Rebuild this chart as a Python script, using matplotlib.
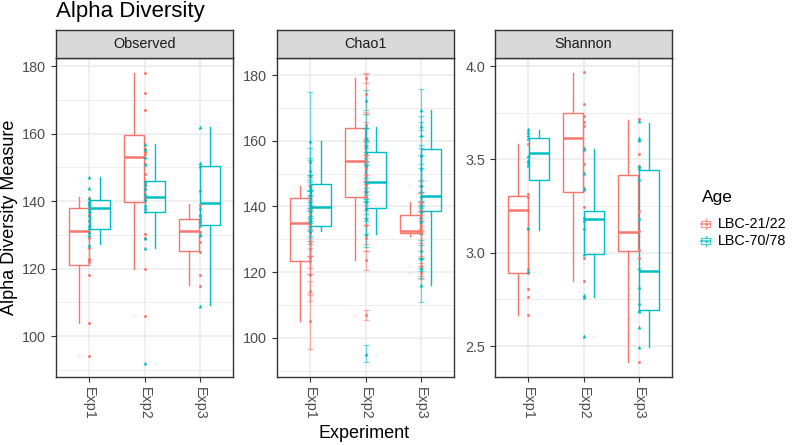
import matplotlib
matplotlib.use('Agg')
import matplotlib.pyplot as plt
from matplotlib.patches import Rectangle
from matplotlib.lines import Line2D

plt.rcParams['font.family'] = ['Liberation Sans', 'DejaVu Sans']

experiments = ['Exp1', 'Exp2', 'Exp3']
groups = ['LBC-21/22', 'LBC-70/78']
colors = ['#F8766D', '#00BFC4']
measures = ['Observed', 'Chao1', 'Shannon']

# ---------------- Observed ----------------
observed_lbc21 = {
    'Exp1': [141, 139.5, 138, 136, 134, 131, 129, 126, 123, 122.5, 122, 118, 104, 94],
    'Exp2': [178, 172, 167, 155.5, 154.7, 154, 151, 148, 145, 140, 130.2, 129, 120, 106],
    'Exp3': [139, 136, 133.5, 131, 130, 128, 125, 118, 115],
}
observed_lbc70 = {
    'Exp1': [147, 144, 141, 140, 139.5, 139, 138, 137, 136, 134.5, 133, 132, 131, 130, 127],
    'Exp2': [157, 155.5, 153, 151, 146, 145, 144, 142, 140.5, 139, 138, 137, 129, 126, 92],
    'Exp3': [162, 151.3, 150.3, 143.3, 138, 136, 135, 134, 133, 130, 109],
}
# box stats per experiment: [lower whisker, Q1, median, Q3, upper whisker]
observed_box_lbc21 = [[104.0, 121.0, 131.1, 138.1, 141.1],
                      [120.0, 139.8, 153.0, 159.5, 177.9],
                      [115.1, 125.1, 131.1, 134.6, 139.1]]
observed_box_lbc70 = [[127.2, 131.8, 138.0, 140.2, 147.0],
                      [126.2, 136.9, 141.1, 146.0, 156.8],
                      [109.1, 132.9, 139.5, 150.3, 162.0]]
observed_out_lbc21 = [[94], [106], []]
observed_out_lbc70 = [[], [92.2], []]

# ---------------- Chao1 (value, standard error) ----------------
chao1_lbc21 = {
    'Exp1': [146.1, 141.6, 138, 136.5, 134.5, 132, 128.9, 127.2, 124.5, 123.3, 119, 114.2, 105.1],
    'Exp2': [179.1, 174.2, 164.9, 160.8, 155.8, 153.8, 151.7, 149.7, 146.6, 142.9, 139.5, 134.5, 130.4, 123.6, 107.1],
    'Exp3': [146.1, 141.4, 137.3, 135.5, 134, 132.6, 132.2, 131.8, 121.8, 119.8],
}
chao1_se_lbc21 = {
    'Exp1': [3, 5, 4, 6, 5, 7, 4, 6, 5, 4, 6, 3, 8.5],
    'Exp2': [1.5, 6, 4, 5, 3, 6, 4, 5, 3, 4, 5, 6, 4, 3, 1.5],
    'Exp3': [2, 3, 4, 3, 5, 6, 8, 9, 3, 2],
}
chao1_lbc70 = {
    'Exp1': [159.9, 153.7, 151.2, 149.7, 146.6, 143.6, 141.6, 140, 138.5, 136.5, 134, 132.6],
    'Exp2': [172.5, 164.3, 160.8, 158.8, 156.5, 152.7, 147.6, 144.6, 141.6, 139.4, 136.5, 131.7, 95.2],
    'Exp3': [169.5, 164.4, 161.8, 155.8, 151.7, 146.6, 143.3, 140.5, 138.5, 135.5, 126.9, 124.3, 121.3, 116],
}
chao1_se_lbc70 = {
    'Exp1': [15, 4, 3, 5, 3, 4, 3, 5, 3, 4, 3, 4],
    'Exp2': [3, 4, 3, 5, 3, 4, 5, 3, 4, 3, 5, 4, 2.6],
    'Exp3': [6.3, 3, 4, 3, 4, 5, 3, 4, 3, 4, 3, 4, 3, 5.2],
}
chao1_box_lbc21 = [[105.1, 123.3, 135.0, 142.5, 146.1],
                   [123.6, 142.9, 153.8, 163.8, 179.1],
                   [131.0, 131.8, 132.6, 137.3, 141.4]]
chao1_box_lbc70 = [[132.6, 134.0, 139.9, 146.8, 159.9],
                   [131.7, 139.4, 147.6, 156.5, 164.3],
                   [116.0, 138.5, 143.3, 157.5, 169.5]]
chao1_out_lbc21 = [[], [107.1], [146.1, 121.8, 119.8]]
chao1_out_lbc70 = [[], [95.2], []]

# ---------------- Shannon ----------------
shannon_lbc21 = {
    'Exp1': [3.582, 3.316, 3.296, 3.23, 3.13, 2.914, 2.889, 2.807, 2.761, 2.668],
    'Exp2': [3.966, 3.796, 3.734, 3.698, 3.677, 3.561, 3.475, 3.346, 3.243, 2.971, 2.846],
    'Exp3': [3.716, 3.529, 3.4625, 3.221, 3.114, 3.016, 2.971, 2.4125],
}
shannon_lbc70 = {
    'Exp1': [3.6625, 3.646, 3.632, 3.614, 3.516, 3.498, 3.486, 3.471, 3.132, 2.9],
    'Exp2': [3.557, 3.425, 3.341, 3.189, 3.177, 3.132, 2.993, 2.771, 2.761, 2.554],
    'Exp3': [3.704, 3.614, 3.605, 3.4625, 3.454, 3.395, 3.186, 2.918, 2.814, 2.73, 2.695, 2.686, 2.604, 2.496],
}
shannon_box_lbc21 = [[2.668, 2.889, 3.230, 3.302, 3.582],
                     [2.850, 3.323, 3.616, 3.750, 3.9625],
                     [2.4125, 3.007, 3.111, 3.418, 3.711]]
shannon_box_lbc70 = [[3.123, 3.387, 3.532, 3.612, 3.659],
                     [2.761, 2.991, 3.180, 3.221, 3.557],
                     [2.496, 2.691, 2.904, 3.443, 3.695]]
shannon_out_lbc21 = [[], [], []]
shannon_out_lbc70 = [[2.9], [2.554], []]

y_limits = [(87.9, 182.4), (88.1, 185.2), (2.334, 4.043)]
y_major = [[100, 120, 140, 160, 180], [100, 120, 140, 160, 180], [2.5, 3.0, 3.5, 4.0]]
y_minor = [[90, 110, 130, 150, 170], [90, 110, 130, 150, 170], [2.75, 3.25, 3.75]]
y_ticklabels = [['100', '120', '140', '160', '180'], ['100', '120', '140', '160', '180'],
                ['2.5', '3.0', '3.5', '4.0']]

points = [(observed_lbc21, observed_lbc70), (chao1_lbc21, chao1_lbc70), (shannon_lbc21, shannon_lbc70)]
errors = [None, (chao1_se_lbc21, chao1_se_lbc70), None]
boxes = [(observed_box_lbc21, observed_box_lbc70), (chao1_box_lbc21, chao1_box_lbc70),
         (shannon_box_lbc21, shannon_box_lbc70)]
outliers = [(observed_out_lbc21, observed_out_lbc70), (chao1_out_lbc21, chao1_out_lbc70),
            (shannon_out_lbc21, shannon_out_lbc70)]

W, H = 792, 445
fig = plt.figure(figsize=(W / 100, H / 100), dpi=100)


def rect(l, t, r, b):
    return [l / W, 1 - b / H, (r - l) / W, (b - t) / H]


panels = [(56, 233), (277, 454), (495, 672)]
dark = '#333333'
grid_c = '#EBEBEB'
markers = ['o', '^']
msizes = [4.5, 7.5]
offsets = [-0.19, 0.19]
box_w = 0.365

for i, m in enumerate(measures):
    l, r = panels[i]
    ax = fig.add_axes(rect(l, 58, r, 377))
    ax.set_xlim(0.4, 3.6)
    ax.set_ylim(*y_limits[i])
    ax.set_yticks(y_major[i])
    ax.set_yticklabels(y_ticklabels[i])
    ax.set_yticks(y_minor[i], minor=True)
    ax.set_xticks([1, 2, 3])
    ax.set_xticklabels(experiments, rotation=-90, va='top', ha='center')
    ax.set_axisbelow(True)
    ax.grid(which='major', color=grid_c, lw=1.1, zorder=0)
    ax.grid(which='minor', axis='y', color=grid_c, lw=0.6, zorder=0)
    ax.tick_params(axis='both', which='major', length=3.6, width=0.8, color=dark,
                   labelcolor='#4D4D4D', labelsize=10.4, pad=3.6)
    ax.tick_params(axis='both', which='minor', length=0)
    for s in ax.spines.values():
        s.set_color(dark)
        s.set_linewidth(1.0)

    for g in range(2):
        c = colors[g]
        data = points[i][g]
        for j, e in enumerate(experiments):
            vals = data[e]
            xs = [j + 1] * len(vals)
            if errors[i] is not None:
                ax.errorbar(xs, vals, yerr=errors[i][g][e], fmt='none', ecolor=c,
                            elinewidth=0.9, capsize=2.3, capthick=0.9, alpha=0.55, zorder=2.5)
            ax.scatter(xs, vals, marker=markers[g], s=msizes[g], color=c,
                       linewidths=0, zorder=3)
        stats = []
        for j, e in enumerate(experiments):
            lo, q1, med, q3, hi = boxes[i][g][j]
            stats.append(dict(whislo=lo, q1=q1, med=med, q3=q3, whishi=hi,
                              fliers=outliers[i][g][j]))
        ax.bxp(stats, positions=[j + 1 + offsets[g] for j in range(3)], widths=box_w,
               showcaps=False, patch_artist=True, manage_ticks=False,
               boxprops=dict(facecolor=(1, 1, 1, 0.1), edgecolor=c, lw=1.0),
               whiskerprops=dict(color=c, lw=1.0),
               medianprops=dict(color=c, lw=1.8),
               flierprops=dict(marker=markers[g], markerfacecolor=c, markeredgecolor='none',
                               alpha=0.1, markersize=3.2),
               zorder=2)

    sx = fig.add_axes(rect(l, 30, r, 58))
    sx.set_facecolor('#D9D9D9')
    sx.set_xticks([])
    sx.set_yticks([])
    for s in sx.spines.values():
        s.set_color(dark)
        s.set_linewidth(1.0)
    sx.text(0.5, 0.5, m, transform=sx.transAxes, ha='center', va='center',
            fontsize=10.4, color='#1A1A1A')

fig.text(56 / W, 1 - 16.7 / H, 'Alpha Diversity', fontsize=16, ha='left', va='baseline', color='black')
fig.text(10 / W, 1 - 217.5 / H, 'Alpha Diversity Measure', fontsize=13, rotation=90,
         ha='center', va='center', color='black')
fig.text(364 / W, 1 - 433 / H, 'Experiment', fontsize=13, ha='center', va='center', color='black')

# legend
fig.text(702 / W, 1 - 202 / H, 'Age', fontsize=12.5, ha='left', va='baseline', color='black')
lg = fig.add_axes([0, 0, 1, 1], facecolor='none')
lg.set_xlim(0, W)
lg.set_ylim(H, 0)
lg.axis('off')
for g in range(2):
    c = colors[g]
    yc = 223.5 + g * 17
    lg.add_patch(Rectangle((701, yc - 3), 9, 6, facecolor='white', edgecolor=c, lw=0.9, alpha=0.75))
    lg.add_line(Line2D([705.5, 705.5], [yc - 5, yc - 3], color=c, lw=0.9, alpha=0.75))
    lg.add_line(Line2D([705.5, 705.5], [yc + 3, yc + 5], color=c, lw=0.9, alpha=0.75))
    lg.add_line(Line2D([701, 710], [yc, yc], color=c, lw=1.2, alpha=0.75))
    lg.plot([705.5], [yc], marker=markers[g], ms=2.2, color=c, alpha=0.75, mec='none')
    lg.text(718, yc + 4.8, groups[g], fontsize=10.4, ha='left', va='baseline', color='black')

fig.savefig('out.png', dpi=100)
